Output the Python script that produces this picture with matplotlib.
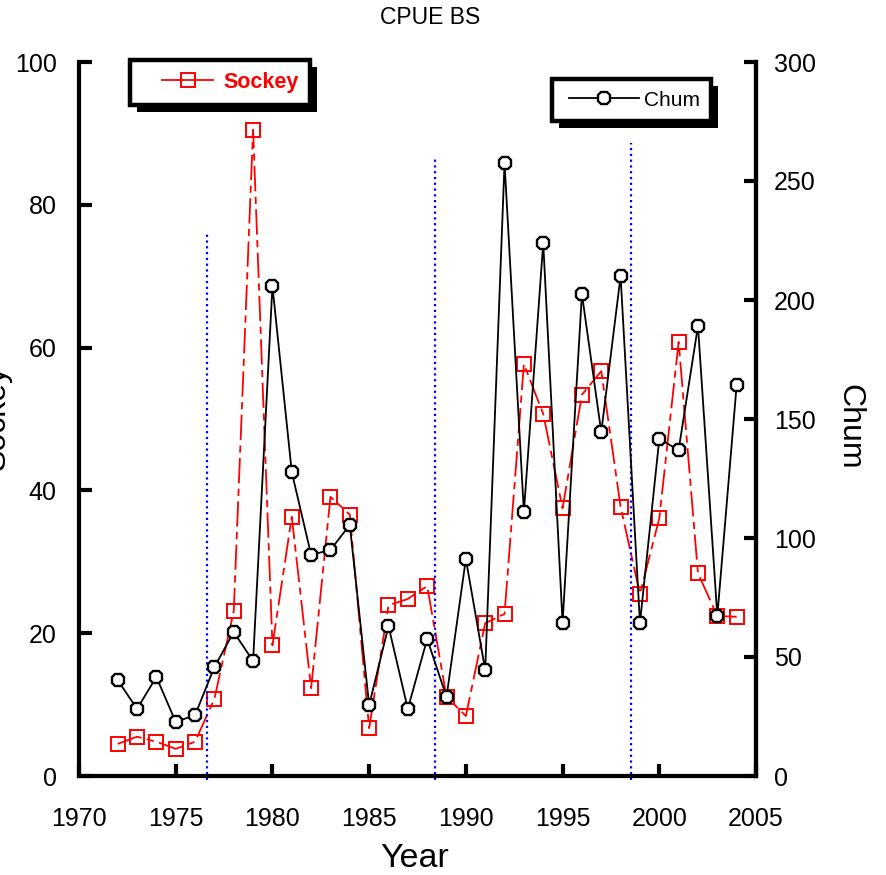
import matplotlib
matplotlib.use("Agg")
import matplotlib.pyplot as plt
from matplotlib.lines import Line2D
from matplotlib.patches import Rectangle
from matplotlib.legend_handler import HandlerLine2D

years = list(range(1972, 2005))
sockey = [4.5, 5.5, 4.8, 3.8, 4.8, 10.8, 23.1, 90.5, 18.3, 36.3, 12.3, 39.1, 36.6,
          6.7, 23.9, 24.8, 26.6, 11.1, 8.4, 21.4, 22.7, 57.7, 50.7, 37.5, 53.4,
          56.7, 37.7, 25.5, 36.1, 60.8, 28.4, 22.4, 22.3]
chum = [40.3, 28.2, 41.6, 22.7, 25.6, 45.8, 60.5, 48.3, 205.9, 127.7, 92.9, 95.0,
        105.5, 29.8, 63.0, 28.2, 57.6, 33.2, 91.2, 44.5, 257.6, 110.9, 224.0, 64.3,
        202.5, 144.5, 210.1, 64.3, 141.6, 137.0, 189.1, 67.2, 164.3]
regime_x = [1976.6, 1988.4, 1998.55]
regime_top = [76.0, 86.6, 88.7]
xticks = [1970, 1975, 1980, 1985, 1990, 1995, 2000, 2005]
left_ticks = [0, 20, 40, 60, 80, 100]
right_ticks = [0, 50, 100, 150, 200, 250, 300]

plt.rcParams['font.family'] = ['Liberation Sans', 'DejaVu Sans']

W, H = 887, 875
fig = plt.figure(figsize=(W/100, H/100), dpi=100)
ax = fig.add_axes([79/W, 1-776/H, (756-79)/W, (776-62)/H])
ax2 = ax.twinx()

ax.plot(years, sockey, color='red', lw=1.3, dashes=[14, 3, 4, 3], marker='s',
        ms=10, mfc='none', mec='red', mew=1.4)
ax2.plot(years, chum, color='black', lw=1.3, marker='8', ms=10, mfc='white',
         mec='black', mew=1.7)

for xv, top in zip(regime_x, regime_top):
    ax.plot([xv, xv], [-0.6, top], color='blue', lw=1.6, ls=(0, (1, 1.6)), clip_on=False)

ax.set_xlim(1970, 2005)
ax.set_ylim(0, 100)
ax2.set_ylim(0, 300)
ax.set_xticks(xticks)
ax.set_yticks(left_ticks)
ax2.set_yticks(right_ticks)

for a in (ax, ax2):
    a.spines['top'].set_visible(False)
    for s in ('left', 'right', 'bottom'):
        a.spines[s].set_linewidth(3)
ax2.spines['left'].set_visible(False)
ax2.spines['bottom'].set_visible(False)

ax.tick_params(axis='both', direction='in', length=9, width=3, labelsize=18)
ax.tick_params(axis='x', pad=22.5)
ax.tick_params(axis='y', pad=16)
ax2.tick_params(axis='y', direction='in', length=9, width=3, labelsize=18, pad=13)

ax.set_xlabel('Year', fontsize=24.5, va='baseline')
ax.xaxis.set_label_coords(0.496, -0.1275)
fig.text(5/W, 1-417/H, 'Sockey', rotation=90, rotation_mode='anchor',
         ha='center', va='baseline', fontsize=23)
fig.text(849/W, 1-427/H, 'Chum', rotation=-90, ha='center', va='center',
         fontsize=23)
fig.text(430/W, 1-18/H, 'CPUE BS', ha='center', va='center', fontsize=16.5)

h1 = Line2D([], [], color='red', lw=1.3, marker='s', ms=10, mfc='none', mec='red', mew=1.4)
h2 = Line2D([], [], color='black', lw=1.3, marker='8', ms=10, mfc='white', mec='black', mew=1.7)
leg1 = ax2.legend([h1], ['Sockey'], loc='upper left', bbox_to_anchor=(0.0755, 1.003),
                  borderaxespad=0, fancybox=False, framealpha=1, edgecolor='black',
                  prop={'size': 15.5, 'weight': 'bold'}, handlelength=3.3,
                  borderpad=0.55, handletextpad=0.47,
                  handler_map={h1: HandlerLine2D(xpad=0.95)})
leg1.get_frame().set_linewidth(3.2)
for t in leg1.get_texts():
    t.set_color('red')
ax2.add_artist(leg1)
leg2 = ax2.legend([h2], ['Chum'], loc='upper left', bbox_to_anchor=(0.699, 0.976),
                  borderaxespad=0, fancybox=False, framealpha=1, edgecolor='black',
                  prop={'size': 15}, handlelength=3.6,
                  borderpad=0.55, handletextpad=0.25,
                  handler_map={h2: HandlerLine2D(xpad=0.25)})
leg2.get_frame().set_linewidth(3.2)
leg1.set_zorder(6)
leg2.set_zorder(6)

fig.canvas.draw()
r = fig.canvas.get_renderer()
for leg in (leg1, leg2):
    bb = leg.get_frame().get_window_extent(r)
    rect = Rectangle((bb.x0 + 7, bb.y0 - 7), bb.width, bb.height, transform=None,
                     facecolor='black', edgecolor='none', zorder=5.5, clip_on=False)
    ax2.add_artist(rect)

fig.savefig('out.png', dpi=100)
